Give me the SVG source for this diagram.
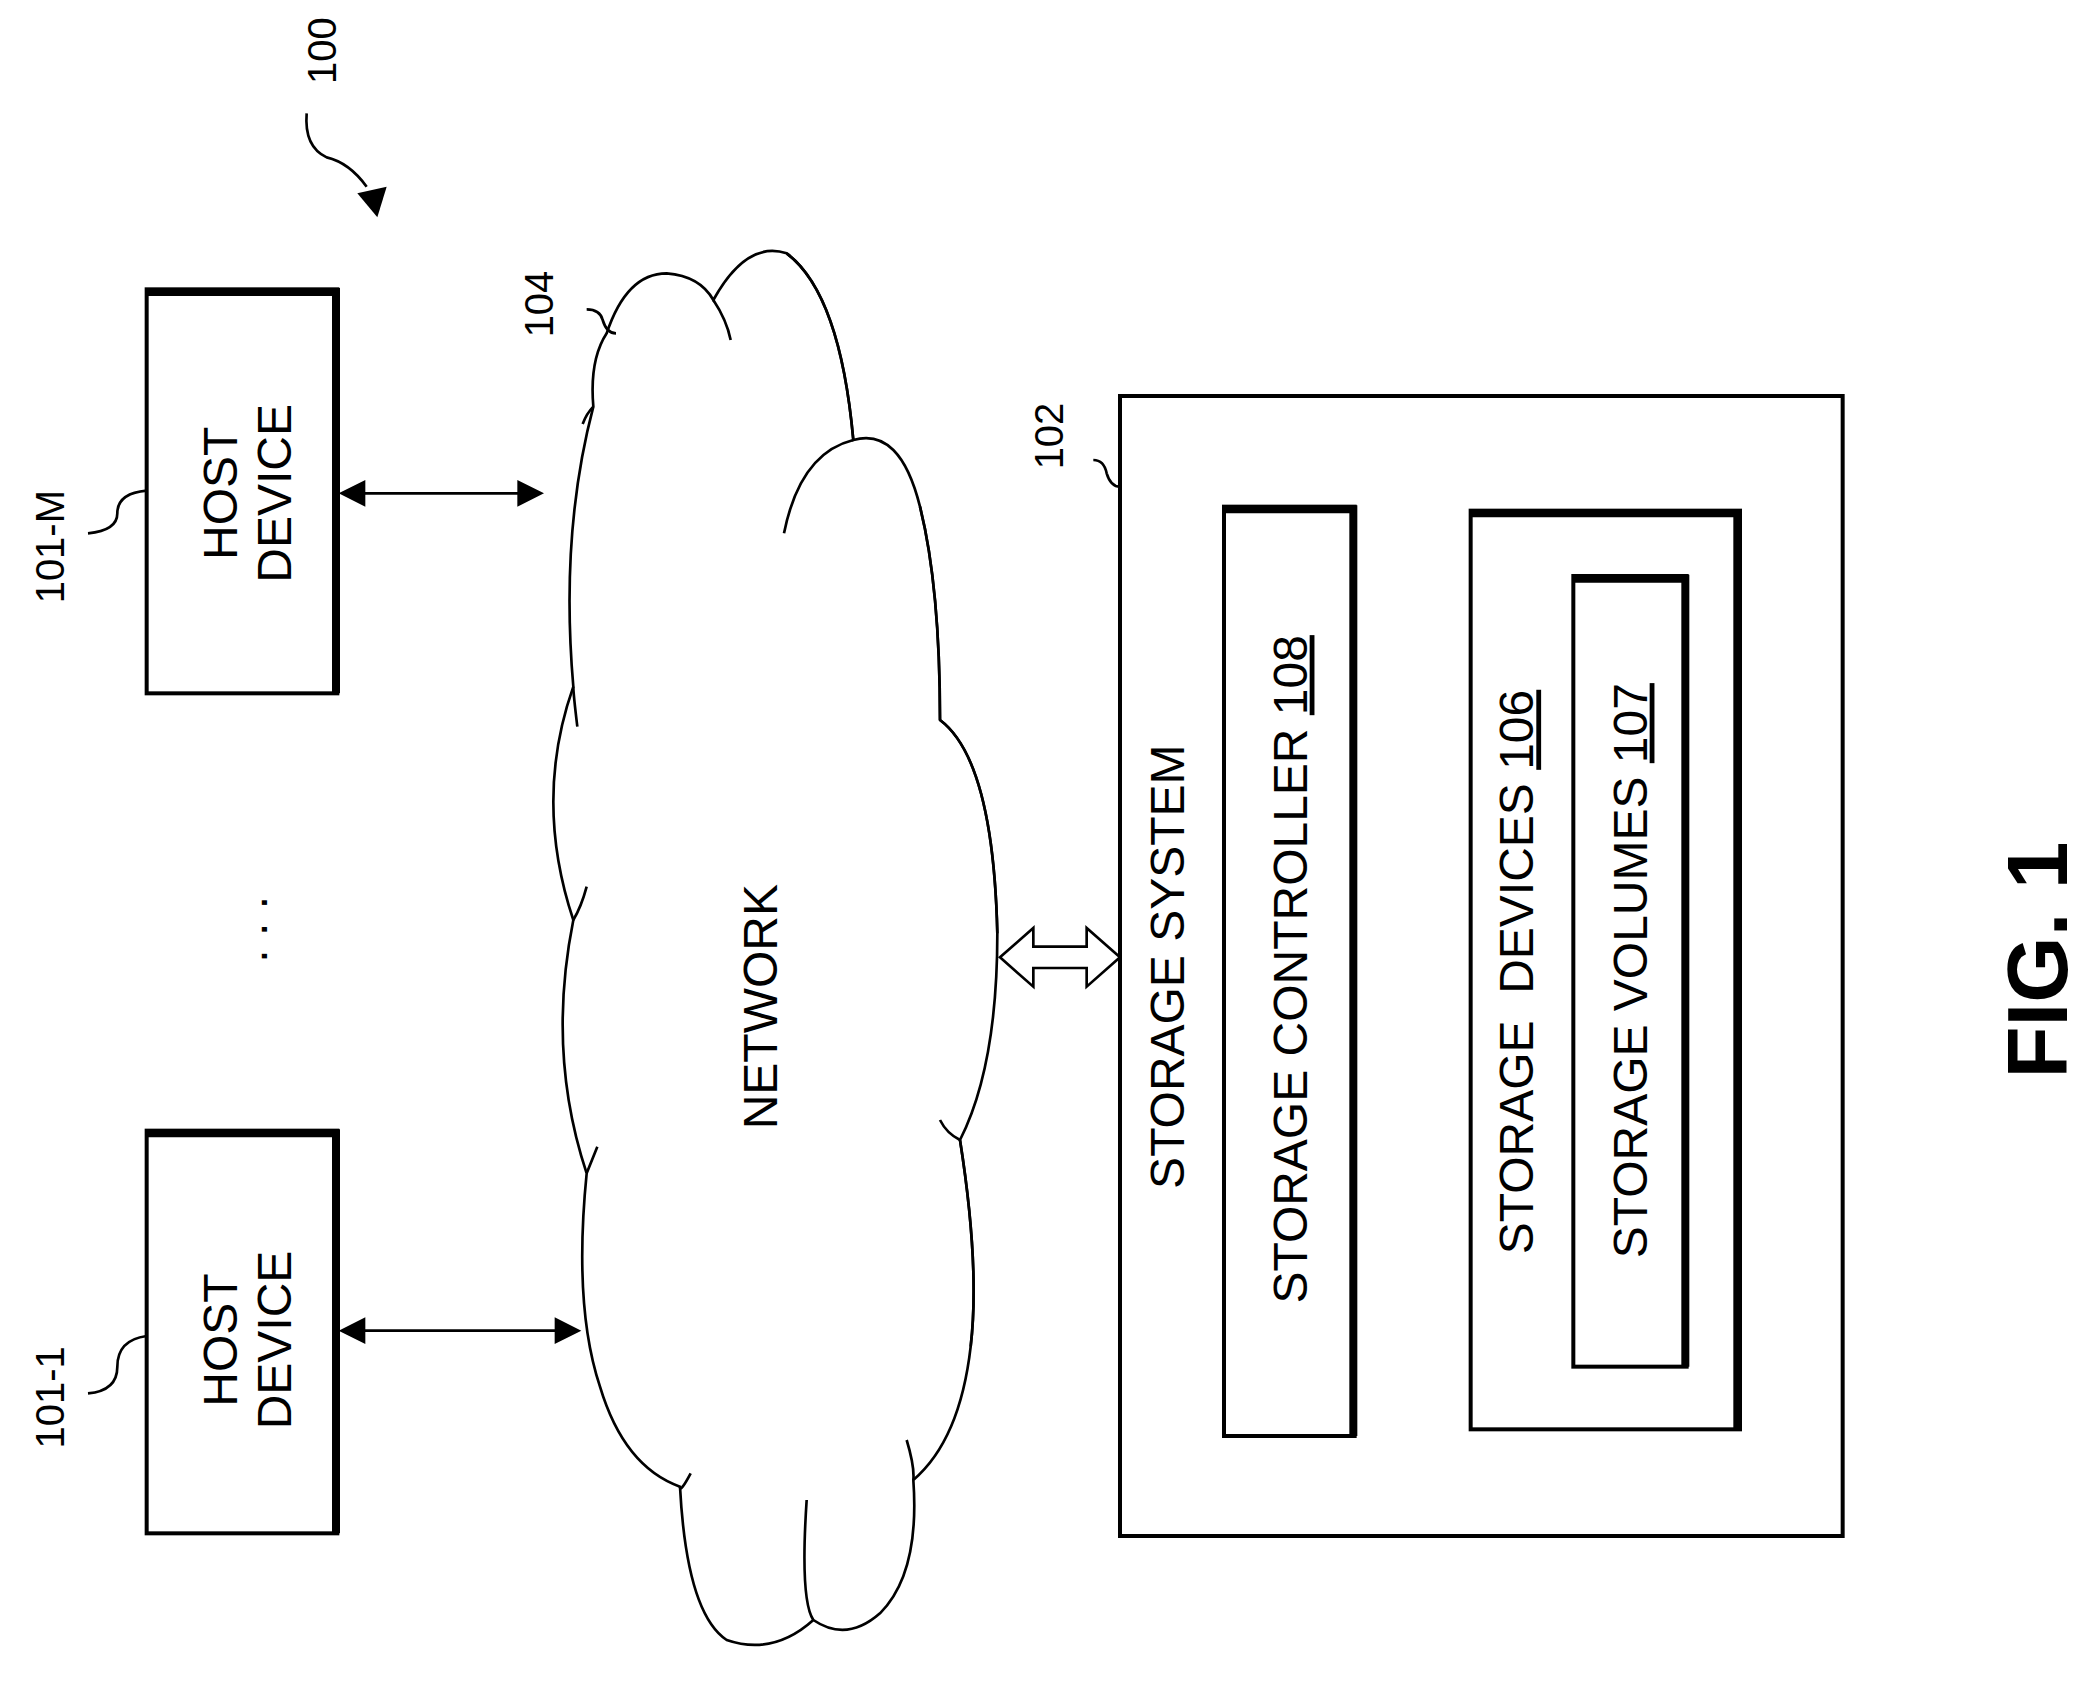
<svg xmlns="http://www.w3.org/2000/svg" width="2084" height="1691" viewBox="0 0 2084 1691">
<style>
text{font-family:"Liberation Sans",Arial,sans-serif;fill:#000}
.t{font-size:36px}
.l{font-size:30px}
.box{fill:#fff;stroke:#000;stroke-width:3}
.thk{fill:none;stroke:#000;stroke-width:6}
.ln{fill:none;stroke:#000;stroke-width:2}
.ha{fill:#fff;stroke:#000;stroke-width:2}
</style>
<rect width="2084" height="1691" fill="#fff"/>
<g transform="scale(1.33333)">
<g id="label-100">
<text class="l" transform="rotate(-90 252 38)" x="252" y="38" text-anchor="middle">100</text>
<path class="ln" d="M230,85 Q228,110 245,118 Q262,122 275,140" stroke-width="2.5"/>
<path d="M268,145 L290,140 L283,163 Z" fill="#000"/>
</g>
<g id="host-m">
<rect class="box" x="110" y="217" width="143" height="303"/>
<path class="thk" d="M110,219 H252 V520"/>
<text class="t" transform="rotate(-90 178 370)" x="178" y="370" text-anchor="middle">HOST</text>
<text class="t" transform="rotate(-90 218 370)" x="218" y="370" text-anchor="middle">DEVICE</text>
<text class="l" transform="rotate(-90 48 410)" x="48" y="410" text-anchor="middle">101-M</text>
<path class="ln" d="M66,400 Q88,398 88,385 Q88,370 110,368"/>
</g>
<g id="host-1">
<rect class="box" x="110" y="848" width="143" height="302"/>
<path class="thk" d="M110,850 H252 V1150"/>
<text class="t" transform="rotate(-90 178 1005)" x="178" y="1005" text-anchor="middle">HOST</text>
<text class="t" transform="rotate(-90 218 1005)" x="218" y="1005" text-anchor="middle">DEVICE</text>
<text class="l" transform="rotate(-90 48 1048)" x="48" y="1048" text-anchor="middle">101-1</text>
<path class="ln" d="M66,1045 Q88,1043 88,1025 Q88,1005 110,1002"/>
</g>
<text class="t" transform="rotate(-90 200 697)" x="200" y="697" text-anchor="middle">. . .</text>
<g id="network">
<path class="ln" d="M455,250 Q470,205 500,205 Q525,207 535,225 Q560,180 590,190 Q630,220 640,330 Q675,320 690,380 Q705,440 705,540 Q745,570 748,700 Q748,800 720,855 Q735,950 728,1010 Q720,1080 685,1110 Q690,1180 660,1210 Q635,1232 610,1215 Q580,1242 545,1230 Q515,1210 510,1115 Q468,1100 450,1040 Q430,980 440,880 Q410,790 430,690 Q400,600 430,515 Q420,400 445,305 Q442,270 455,250 Z"/>
<path class="ln" stroke-width="4" d="M590,190 Q630,220 640,330 M690,380 Q705,440 705,540 M705,540 Q745,570 748,700 M720,855 Q735,950 728,1010"/>
<path class="ln" d="M535,225 Q545,240 548,255 M640,330 Q600,340 588,400 M445,305 Q440,310 437,318 M430,515 Q430,520 433,545 M430,690 Q436,680 440,665 M440,880 Q442,875 448,860 M510,1115 Q510,1120 518,1105 M610,1215 Q600,1200 605,1125 M685,1110 Q686,1100 680,1080 M720,855 Q710,850 705,840"/>
<text class="t" transform="rotate(-90 583 755)" x="583" y="755" text-anchor="middle">NETWORK</text>
<text class="l" transform="rotate(-90 415 228)" x="415" y="228" text-anchor="middle">104</text>
<path class="ln" d="M440,232 Q450,232 452,240 Q455,250 462,250"/>
</g>
<g id="connectors">
<line class="ln" stroke-width="3" x1="270" y1="370" x2="392" y2="370"/>
<path d="M254,370 L274,360 L274,380 Z M408,370 L388,360 L388,380 Z"/>
<line class="ln" stroke-width="3" x1="270" y1="998" x2="420" y2="998"/>
<path d="M254,998 L274,988 L274,1008 Z M436,998 L416,988 L416,1008 Z"/>
<path class="ha" d="M750,718 L775,696 L775,710 L815,710 L815,696 L840,718 L815,740 L815,726 L775,726 L775,740 Z"/>
<path class="ha" d="M1017,715 L1040,693 L1040,707 L1077,707 L1077,693 L1100,715 L1077,737 L1077,723 L1040,723 L1040,737 Z"/>
</g>
<g id="storage-system">
<rect class="box" x="840" y="297" width="542" height="855"/>
<text class="t" transform="rotate(-90 888 725)" x="888" y="725" text-anchor="middle">STORAGE SYSTEM</text>
<text class="l" transform="rotate(-90 797 327)" x="797" y="327" text-anchor="middle">102</text>
<path class="ln" d="M820,345 Q828,345 830,355 Q833,365 840,365"/>
</g>
<g id="storage-controller">
<rect class="box" x="918" y="380" width="98" height="697"/>
<path class="thk" d="M918,382 H1015 V1077"/>
<text class="t" transform="rotate(-90 980 727)" x="980" y="727" text-anchor="middle">STORAGE CONTROLLER <tspan text-decoration="underline">108</tspan></text>
</g>
<g id="storage-devices">
<rect class="box" x="1103" y="383" width="202" height="689"/>
<path class="thk" d="M1103,385 H1303 V1072"/>
<text class="t" transform="rotate(-90 1150 729)" x="1150" y="729" text-anchor="middle" xml:space="preserve">STORAGE  DEVICES <tspan text-decoration="underline">106</tspan></text>
</g>
<g id="storage-volumes">
<rect class="box" x="1180" y="432" width="85" height="593"/>
<path class="thk" d="M1180,434 H1264 V1025"/>
<text class="t" transform="rotate(-90 1235 728)" x="1235" y="728" text-anchor="middle">STORAGE VOLUMES <tspan text-decoration="underline">107</tspan></text>
</g>
<text transform="rotate(-90 1550 720)" x="1550" y="720" text-anchor="middle" font-size="64" font-weight="bold">FIG. 1</text>
</g>
</svg>
